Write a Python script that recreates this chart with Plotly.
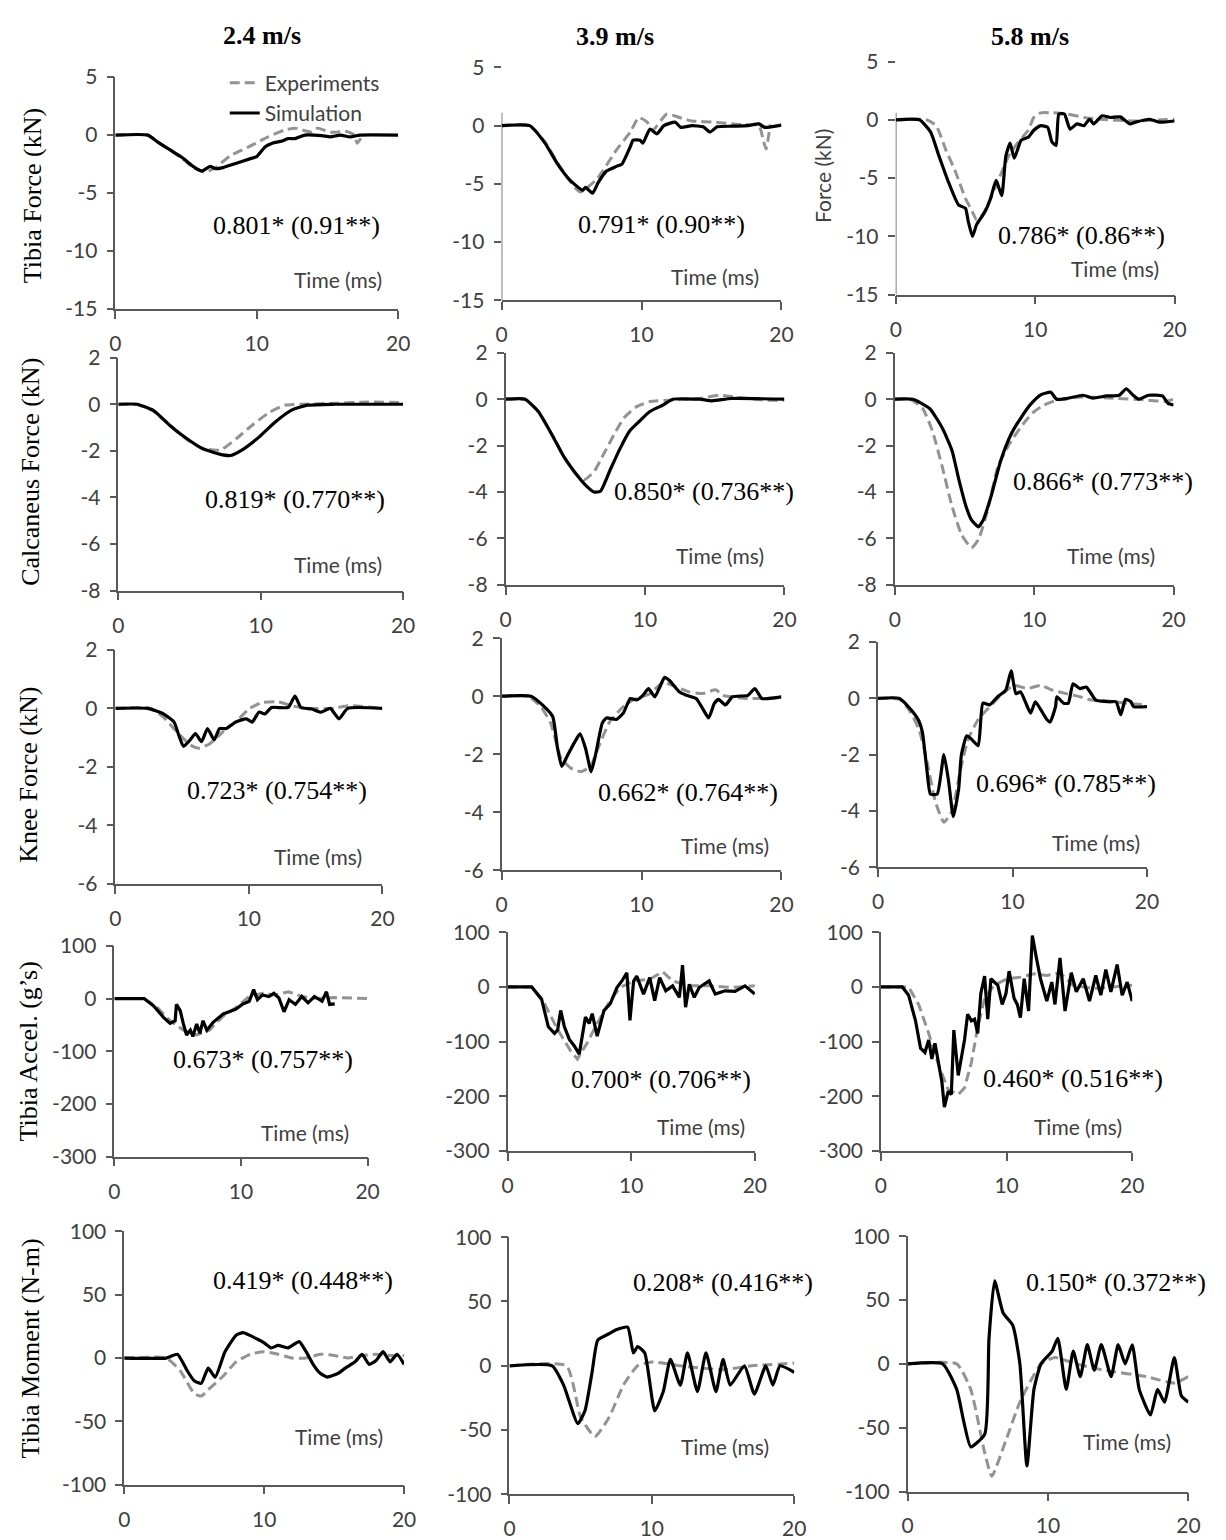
import plotly.graph_objects as go

W, H = 1226, 1540

# ---------------- DATA ----------------
col_titles = ["2.4 m/s", "3.9 m/s", "5.8 m/s"]
row_titles = ["Tibia Force (kN)", "Calcaneus Force (kN)", "Knee Force (kN)",
              "Tibia Accel. (g\u2019s)", "Tibia Moment (N-m)"]
corr_labels = ["0.801* (0.91**)", "0.791* (0.90**)", "0.786* (0.86**)",
               "0.819* (0.770**)", "0.850* (0.736**)", "0.866* (0.773**)",
               "0.723* (0.754**)", "0.662* (0.764**)", "0.696* (0.785**)",
               "0.673* (0.757**)", "0.700* (0.706**)", "0.460* (0.516**)",
               "0.419* (0.448**)", "0.208* (0.416**)", "0.150* (0.372**)"]
x_ticks = [0, 10, 20]

# Tibia force 2.4 m/s
tf24_sim_t = [0, 2.3, 3.0, 3.9, 4.8, 5.5, 6.1, 6.7, 7.1, 7.6, 8.5, 9.5, 10.0, 10.6, 11.1, 11.8, 12.2, 12.7, 13.4, 14.6, 15.2, 15.9, 16.6, 17.3, 20]
tf24_sim_v = [0, 0, -0.6, -1.3, -2.0, -2.7, -3.1, -2.7, -2.9, -2.8, -2.45, -2.05, -1.85, -1.0, -0.7, -0.5, -0.3, -0.3, 0, -0.05, -0.15, 0, -0.15, 0, 0]
tf24_exp_t = [0, 2.3, 3.0, 3.9, 4.8, 5.5, 6.4, 7.2, 8.1, 9.7, 10.8, 12.0, 12.7, 13.9, 14.3, 15.2, 16.4, 16.9, 17.1, 17.5]
tf24_exp_v = [0, 0, -0.6, -1.3, -2.1, -2.8, -3.2, -2.7, -1.8, -0.85, -0.15, 0.45, 0.6, 0.25, 0.6, 0.25, 0.3, 0, -0.7, 0]
# Tibia force 3.9 m/s
tf39_sim_t = [0, 2.0, 3.1, 4.0, 4.9, 5.8, 6.0, 6.5, 6.9, 7.5, 8.2, 8.6, 9.2, 9.4, 9.9, 10.1, 10.6, 11.1, 11.6, 12.4, 12.8, 13.6, 14.4, 14.9, 15.4, 16.5, 17.6, 18.4, 18.8, 20]
tf39_sim_v = [0, 0, -1.5, -3.3, -4.7, -5.55, -5.3, -5.8, -4.9, -3.9, -3.5, -3.3, -1.8, -1.25, -1.25, -1.5, -0.3, -0.7, 0, 0.3, -0.15, 0, -0.1, -0.55, -0.1, -0.05, 0, 0.15, -0.15, 0.05]
tf39_exp_t = [0, 2.0, 3.1, 4.0, 4.9, 5.6, 6.8, 8.2, 9.2, 9.8, 10.4, 10.8, 11.8, 12.7, 13.6, 15.3, 16.9, 18.4, 18.7, 18.9, 19.2]
tf39_exp_v = [0, 0, -1.4, -3.2, -4.8, -5.7, -4.6, -2.1, -0.55, 0.7, 0.3, -0.4, 1.0, 0.7, 0.4, 0.3, 0.1, 0, -1.25, -2.0, 0.1]
# Tibia force 5.8 m/s
tf58_sim_t = [0, 1.7, 2.5, 3.1, 3.8, 4.5, 5.0, 5.2, 5.5, 5.8, 6.4, 6.8, 7.2, 7.6, 7.9, 8.2, 8.5, 9.0, 9.5, 9.9, 10.4, 10.9, 11.2, 11.5, 11.7, 12.1, 12.5, 13.0, 13.5, 13.9, 14.2, 14.8, 15.4, 16.1, 16.8, 17.2, 18.2, 18.9, 20]
tf58_sim_v = [0, 0, -1.05, -3.1, -5.4, -7.3, -7.6, -8.7, -10.0, -9.0, -7.9, -6.75, -5.2, -6.5, -3.1, -2.0, -3.3, -1.75, -1.5, -0.9, -0.5, -0.65, -1.9, -2.2, 0.5, 0.5, -0.8, -0.35, -0.5, 0.05, -0.35, 0.35, 0.2, 0.25, -0.35, -0.2, 0.05, -0.2, -0.1]
tf58_exp_t = [0, 2.2, 2.9, 3.6, 4.3, 5.0, 5.5, 5.8, 6.2, 6.6, 7.1, 7.6, 8.1, 8.8, 9.5, 9.9, 10.4, 11.3, 12.3, 13.5, 14.7, 17.1, 20]
tf58_exp_v = [0, 0, -0.5, -2.6, -4.5, -6.75, -7.9, -8.6, -8.2, -7.3, -5.9, -4.5, -3.1, -1.9, -0.9, 0.2, 0.6, 0.6, 0.5, 0.2, 0.05, -0.1, 0.05]

# Calcaneus force
cf24_sim_t = [0, 1.3, 2.5, 3.6, 4.8, 5.9, 7.1, 7.9, 8.7, 9.9, 11.0, 12.2, 13.3, 15.2, 20]
cf24_sim_v = [0, 0, -0.28, -0.9, -1.47, -1.9, -2.14, -2.2, -1.96, -1.4, -0.77, -0.24, -0.04, 0, 0]
cf24_exp_t = [0, 1.3, 2.5, 3.6, 4.8, 5.9, 7.2, 8.3, 9.4, 10.6, 11.7, 12.9, 15.2, 17.5, 20]
cf24_exp_v = [0, 0, -0.3, -0.9, -1.5, -1.9, -1.96, -1.47, -0.9, -0.35, -0.04, 0, 0.04, 0.1, 0.07]
cf39_sim_t = [0, 1.4, 2.35, 3.3, 4.2, 5.2, 5.9, 6.35, 6.8, 7.5, 8.2, 8.9, 9.6, 10.35, 11.3, 12.0, 13.9, 14.8, 16.2, 20]
cf39_sim_v = [0, 0, -0.53, -1.5, -2.5, -3.33, -3.8, -4.0, -3.97, -3.05, -2.14, -1.37, -0.95, -0.53, -0.25, 0, 0, -0.07, 0.03, 0]
cf39_exp_t = [0, 1.4, 2.35, 3.3, 4.2, 5.0, 5.65, 6.35, 7.05, 7.8, 8.5, 9.4, 10.35, 11.8, 13.9, 15.3, 16.9, 18.6, 20]
cf39_exp_v = [0, 0, -0.53, -1.5, -2.5, -3.2, -3.47, -3.12, -2.35, -1.5, -0.8, -0.32, -0.1, -0.04, 0.03, 0.17, 0.06, -0.04, -0.04]
cf58_sim_t = [0, 1.3, 2.5, 3.4, 4.1, 4.6, 5.1, 5.5, 6.0, 6.35, 6.9, 7.6, 8.35, 9.05, 9.8, 10.5, 11.2, 11.6, 12.35, 13.5, 14.2, 15.2, 16.1, 16.6, 17.1, 17.5, 18.2, 19.2, 19.6, 20]
cf58_sim_v = [0, 0, -0.4, -1.23, -2.2, -3.47, -4.6, -5.2, -5.5, -5.2, -4.2, -2.65, -1.5, -0.8, -0.18, 0.2, 0.3, 0, 0.03, 0.17, 0.05, 0.14, 0.17, 0.45, 0.17, 0, 0.17, 0.14, -0.18, -0.25]
cf58_exp_t = [0, 1.1, 2.0, 2.7, 3.4, 4.1, 4.8, 5.5, 6.0, 6.7, 7.4, 8.35, 9.3, 10.0, 10.7, 11.65, 13.5, 15.9, 18.2, 19.4, 20]
cf58_exp_v = [0, 0, -0.4, -1.37, -2.9, -4.6, -5.85, -6.4, -6.05, -4.7, -2.9, -1.8, -1.0, -0.53, -0.25, -0.04, 0.1, 0.03, -0.04, -0.1, 0]

# Knee force
kf24_sim_t = [0, 2.4, 3.6, 4.4, 4.75, 5.1, 5.6, 6.0, 6.45, 6.9, 7.4, 7.8, 8.3, 9.0, 9.8, 10.25, 10.75, 11.2, 11.7, 12.95, 13.45, 13.9, 14.7, 15.4, 16.1, 16.75, 17.4, 20]
kf24_sim_v = [0, 0, -0.19, -0.47, -0.92, -1.3, -1.08, -0.86, -1.14, -0.69, -1.08, -0.69, -0.69, -0.47, -0.36, -0.47, -0.13, -0.19, 0.03, 0.03, 0.42, 0.03, -0.02, -0.13, 0, -0.36, 0, 0]
kf24_exp_t = [0, 2.65, 3.6, 4.6, 5.6, 6.3, 7.1, 8.05, 9.0, 10.0, 11.0, 12.2, 13.2, 14.4, 16.4, 17.4, 20]
kf24_exp_v = [0, 0, -0.3, -0.8, -1.25, -1.36, -1.2, -0.8, -0.47, -0.02, 0.2, 0.22, 0.09, 0, 0, 0.09, 0]
kf39_sim_t = [0, 2.1, 3.05, 3.65, 4.0, 4.3, 4.7, 5.2, 5.6, 6.0, 6.4, 6.7, 7.2, 7.5, 8.2, 8.7, 9.2, 9.65, 10.1, 10.5, 10.95, 11.3, 11.65, 12.0, 12.7, 13.2, 13.9, 14.35, 14.8, 15.2, 15.5, 16.0, 16.5, 17.6, 18.1, 18.6, 19.05, 20]
kf39_sim_v = [0, 0, -0.36, -0.7, -1.8, -2.42, -2.05, -1.6, -1.3, -1.8, -2.6, -2.05, -0.92, -0.75, -0.8, -0.58, -0.08, -0.13, 0.03, 0.26, -0.02, 0.31, 0.65, 0.54, 0.15, 0.03, -0.08, -0.41, -0.75, -0.25, -0.11, -0.3, -0.02, 0.03, 0.26, -0.08, -0.08, -0.02]
kf39_exp_t = [0, 1.9, 2.8, 3.5, 4.25, 4.95, 5.65, 6.35, 7.05, 7.75, 8.7, 9.4, 10.6, 11.55, 12.5, 13.4, 14.35, 15.3, 15.8, 17.6, 20]
kf39_exp_v = [0, 0, -0.36, -0.92, -2.14, -2.48, -2.6, -2.42, -1.6, -0.86, -0.36, -0.13, 0.09, 0.48, 0.31, 0.15, 0.09, 0.22, 0.03, -0.08, -0.05]
kf58_sim_t = [0, 1.6, 2.55, 3.05, 3.3, 3.65, 3.9, 4.4, 4.9, 5.25, 5.6, 6.0, 6.2, 6.6, 6.95, 7.45, 7.8, 8.3, 8.9, 9.5, 9.9, 10.25, 10.6, 11.1, 11.35, 11.7, 12.1, 12.55, 12.8, 13.2, 13.3, 13.8, 14.15, 14.5, 15.0, 15.5, 16.2, 17.2, 17.7, 18.05, 18.4, 18.8, 19.0, 20]
kf58_sim_v = [0, 0, -0.46, -0.81, -1.2, -2.6, -3.4, -3.4, -2.0, -2.95, -4.2, -3.2, -2.0, -1.33, -1.45, -1.68, -0.17, -0.23, 0.06, 0.29, 0.98, 0.17, 0.23, -0.29, -0.52, -0.12, -0.4, -0.75, -0.84, -0.29, 0.06, -0.17, -0.17, 0.52, 0.35, 0.4, -0.06, -0.12, -0.12, -0.58, -0.03, -0.12, -0.29, -0.29]
kf58_exp_t = [0, 1.6, 2.3, 3.05, 3.65, 4.25, 4.9, 5.5, 6.1, 6.7, 7.45, 8.2, 9.15, 10.1, 11.1, 12.1, 13.0, 14.0, 15.0, 15.9, 16.95, 18.4, 20]
kf58_exp_v = [0, -0.03, -0.4, -1.1, -2.25, -3.64, -4.4, -4.0, -2.6, -1.45, -0.75, -0.35, 0.12, 0.46, 0.35, 0.46, 0.29, 0.17, 0.06, -0.06, -0.08, -0.17, -0.23]

# Tibia acceleration
ta24_sim_t = [0, 2.35, 3.1, 3.9, 4.4, 4.8, 4.9, 5.2, 5.45, 5.7, 6.0, 6.2, 6.5, 6.75, 7.0, 7.3, 7.8, 8.6, 9.6, 10.1, 10.65, 11.0, 11.3, 11.7, 12.2, 12.6, 13.0, 13.4, 13.8, 14.3, 14.8, 15.3, 15.8, 16.4, 16.75, 17.0, 17.4]
ta24_sim_v = [0, 0, -14, -36, -47, -42, -11, -23, -48, -69, -60, -72, -48, -66, -42, -60, -45, -29, -20, -11, -5, 17, -2, 7, 4, 10, 1, -25, -2, -11, 4, -8, 4, -5, 13, -11, -10]
ta24_exp_t = [0, 2.35, 3.4, 4.4, 5.45, 6.5, 7.5, 8.6, 9.6, 10.65, 11.7, 12.7, 13.75, 14.8, 16.1, 17.4, 20]
ta24_exp_v = [0, 0, -17, -42, -60, -69, -60, -33, -17, 4, 10, 7, 13, 4, 0, 2, 0]
ta39_sim_t = [0, 1.95, 2.75, 3.3, 3.8, 4.05, 4.3, 4.6, 5.0, 5.4, 5.8, 6.05, 6.3, 6.6, 6.85, 7.25, 7.8, 8.3, 8.6, 8.85, 9.25, 9.65, 9.9, 10.2, 10.45, 11.0, 11.5, 11.9, 12.3, 12.8, 13.35, 13.9, 14.15, 14.4, 14.7, 15.1, 15.5, 16.3, 16.8, 17.6, 18.4, 19.2, 20]
ta39_sim_v = [0, 0, -22, -73, -85, -79, -43, -73, -96, -108, -123, -84, -55, -67, -49, -90, -43, -31, -13, -1, 11, 26, -61, 11, 20, -13, 17, -25, 17, -7, 2, -19, 40, -37, 5, -19, -1, 11, -13, -7, -8, 2, -13]
ta39_exp_t = [0, 1.95, 3.0, 4.05, 5.1, 5.65, 6.45, 7.25, 8.3, 9.1, 10.2, 11.5, 12.55, 13.35, 14.7, 16.3, 18.1, 20]
ta39_exp_v = [0, 0, -31, -78, -117, -132, -102, -67, -25, -1, 11, 14, 28, 11, 2, 2, -1, 2]
ta58_sim_t = [0, 1.7, 2.2, 2.75, 3.15, 3.5, 3.8, 4.05, 4.3, 4.6, 4.85, 5.05, 5.35, 5.6, 5.8, 6.15, 6.4, 6.65, 6.9, 7.2, 7.45, 7.7, 7.95, 8.25, 8.5, 8.75, 9.3, 9.65, 9.95, 10.2, 10.6, 10.85, 11.1, 11.4, 11.75, 12.05, 12.35, 12.7, 13.2, 13.6, 13.85, 14.25, 14.65, 15.15, 15.55, 16.1, 16.6, 17.1, 17.5, 17.9, 18.3, 18.8, 19.2, 19.6, 20]
ta58_sim_v = [0, 0, -15, -62, -112, -120, -97, -132, -103, -144, -174, -220, -191, -197, -79, -162, -126, -97, -50, -62, -59, -85, -12, 20, -59, 15, 3, -32, -12, 29, -21, -32, -56, 15, -44, 94, 56, 15, -26, 9, -32, 53, -44, 26, -9, 15, -26, 21, -15, 32, -9, 41, -15, 9, -26]
ta58_exp_t = [0, 2.2, 3.0, 3.8, 4.6, 5.35, 6.15, 6.65, 7.2, 7.7, 8.25, 9.0, 10.05, 11.1, 12.2, 13.2, 14.25, 15.3, 16.9, 18.4, 20]
ta58_exp_v = [0, 0, -32, -85, -144, -188, -197, -185, -138, -74, -21, 3, 15, 18, 24, 21, 26, 3, -3, 0, 3]

# Tibia moment
tm24_sim_t = [0, 3.0, 3.8, 4.5, 5.0, 5.5, 6.0, 6.5, 7.2, 8.0, 8.5, 9.5, 10.0, 10.5, 11.0, 11.7, 12.5, 13.0, 13.5, 14.0, 14.5, 15.3, 15.8, 16.5, 17.0, 17.5, 18.0, 18.5, 19.0, 19.5, 20]
tm24_sim_v = [0, 0, 3, -10, -18, -20, -8, -15, 5, 18, 20, 15, 12, 8, 10, 8, 13, 5, -5, -12, -15, -12, -8, -3, 3, -5, -2, 5, -3, 3, -5]
tm24_exp_t = [0, 3.0, 4.0, 5.0, 5.5, 6.0, 7.0, 8.0, 9.0, 10.0, 11.0, 12.0, 13.0, 14.0, 15.0, 16.0, 17.0, 18.0, 19.0, 20]
tm24_exp_v = [0, 0, -10, -28, -30, -25, -15, -3, 3, 5, 3, 0, 0, 3, 2, 0, 2, 3, 2, 2]
tm39_sim_t = [0, 3.0, 3.8, 4.8, 5.3, 5.8, 6.2, 7.0, 7.5, 8.3, 8.7, 9.0, 9.5, 10.2, 10.8, 11.3, 12.0, 12.5, 13.2, 13.8, 14.5, 15.0, 15.5, 16.5, 17.2, 18.0, 18.5, 19.0, 20]
tm39_sim_v = [0, 0, -15, -45, -35, -5, 20, 25, 28, 30, 10, 15, 10, -35, -20, 5, -15, 10, -20, 10, -20, 5, -15, 0, -22, 0, -15, 0, -5]
tm39_exp_t = [0, 4.0, 5.0, 6.0, 7.0, 8.0, 9.0, 10.0, 12.0, 15.0, 17.0, 20]
tm39_exp_v = [0, 0, -40, -55, -40, -15, 0, 3, 0, -3, 0, 2]
tm58_sim_t = [0, 2.5, 3.5, 4.0, 4.5, 5.5, 5.8, 6.2, 6.8, 7.5, 8.0, 8.5, 9.0, 9.5, 10.3, 10.7, 11.3, 11.8, 12.3, 12.8, 13.3, 13.8, 14.5, 15.0, 15.5, 16.0, 16.5, 17.3, 17.8, 18.3, 19.0, 19.5, 20]
tm58_sim_v = [0, 0, -20, -45, -65, -55, 20, 65, 40, 30, 0, -80, -20, 0, 10, 20, -20, 10, -10, 15, -5, 15, -10, 15, 0, 15, -20, -40, -20, -30, 5, -25, -30]
tm58_exp_t = [0, 3.5, 4.5, 5.5, 6.0, 7.0, 8.0, 9.5, 10.5, 12.0, 14.0, 17.0, 19.0, 20]
tm58_exp_v = [0, 0, -20, -70, -88, -60, -30, 0, 5, 0, -5, -10, -15, -10]

panels = [
    (tf24_sim_t, tf24_sim_v, tf24_exp_t, tf24_exp_v), (tf39_sim_t, tf39_sim_v, tf39_exp_t, tf39_exp_v), (tf58_sim_t, tf58_sim_v, tf58_exp_t, tf58_exp_v),
    (cf24_sim_t, cf24_sim_v, cf24_exp_t, cf24_exp_v), (cf39_sim_t, cf39_sim_v, cf39_exp_t, cf39_exp_v), (cf58_sim_t, cf58_sim_v, cf58_exp_t, cf58_exp_v),
    (kf24_sim_t, kf24_sim_v, kf24_exp_t, kf24_exp_v), (kf39_sim_t, kf39_sim_v, kf39_exp_t, kf39_exp_v), (kf58_sim_t, kf58_sim_v, kf58_exp_t, kf58_exp_v),
    (ta24_sim_t, ta24_sim_v, ta24_exp_t, ta24_exp_v), (ta39_sim_t, ta39_sim_v, ta39_exp_t, ta39_exp_v), (ta58_sim_t, ta58_sim_v, ta58_exp_t, ta58_exp_v),
    (tm24_sim_t, tm24_sim_v, tm24_exp_t, tm24_exp_v), (tm39_sim_t, tm39_sim_v, tm39_exp_t, tm39_exp_v), (tm58_sim_t, tm58_sim_v, tm58_exp_t, tm58_exp_v),
]

row_yticks = [[-15, -10, -5, 0, 5], [-8, -6, -4, -2, 0, 2], [-6, -4, -2, 0, 2],
              [-300, -200, -100, 0, 100], [-100, -50, 0, 50, 100]]

# ---------------- LAYOUT (pixel boxes: x0, x1, y_top, y_bottom) ----------------
boxes = [
    (111, 398, 65, 304), (503, 787, 55, 295), (903, 1186, 49, 289),
    (114, 403, 354, 594), (507, 790, 349, 588), (902, 1185, 349, 588),
    (111, 382, 655, 896), (503, 787, 643, 882), (885, 1158, 647, 879),
    (110, 367, 960, 1177), (509, 760, 946, 1171), (888, 1143, 946, 1171),
    (120, 404, 1254, 1515), (511, 800, 1260, 1525), (915, 1200, 1259, 1522),
]
# top of the visible y-axis line (data units) where the source panel is cropped
axis_line_top = {1: 1.1, 2: 0.6}
corr_pos = [(295, 218), (665, 217), (1092, 228),
            (293, 500), (708, 492), (1113, 482),
            (275, 800), (692, 802), (1076, 793),
            (261, 1077), (665, 1098), (1083, 1097),
            (301, 1305), (728, 1307), (1127, 1307)]
time_pos = [(337, 273), (720, 270), (1126, 262),
            (337, 567), (725, 558), (1121, 558),
            (317, 868), (730, 857), (1106, 853),
            (303, 1152), (705, 1146), (1088, 1146),
            (338, 1465), (730, 1476), (1138, 1470)]
col_title_pos = [(260, 22), (618, 23), (1039, 23)]
row_title_pos = [(27, 187), (25, 472), (22, 784), (23, 1069), (25, 1375)]
smooth_rows = [0, 1, 2, 4]

SERIF = "Liberation Serif"
SANS = "Lato"
AX = "#595959"
TXT = "#404040"
EXP_C = "#939393"

fig = go.Figure()
layout = dict(width=W, height=H, margin=dict(l=0, r=0, t=0, b=0),
              paper_bgcolor="white", plot_bgcolor="white",
              showlegend=True)
annotations = []
shapes = []

for i, (st, sv, et, ev) in enumerate(panels):
    k = i + 1
    r = i // 3
    x0, x1, yt, yb = boxes[i]
    xa = "x" if k == 1 else f"x{k}"
    ya = "y" if k == 1 else f"y{k}"
    shape = "spline" if r in smooth_rows else "linear"
    fig.add_trace(go.Scatter(x=et, y=ev, mode="lines", xaxis=xa, yaxis=ya,
                             name="Experiments", showlegend=(k == 1),
                             line=dict(color=EXP_C, width=3, dash="10px,5px",
                                       shape=shape, smoothing=0.5)))
    fig.add_trace(go.Scatter(x=st, y=sv, mode="lines", xaxis=xa, yaxis=ya,
                             name="Simulation", showlegend=(k == 1),
                             line=dict(color="black", width=3.2,
                                       shape=shape, smoothing=0.5)))
    yv = row_yticks[r]
    common = dict(showgrid=False, zeroline=False, linecolor=AX,
                  linewidth=1.5, ticks="outside", tickcolor=AX, tickwidth=1.5,
                  tickfont=dict(family=SANS, size=21, color=TXT))
    layout[("xaxis" if k == 1 else f"xaxis{k}")] = dict(
        domain=[x0 / W, x1 / W], anchor=ya, range=[0, 20], tickvals=x_ticks,
        ticktext=[str(v) for v in x_ticks], showline=True,
        ticklen=8, ticklabelstandoff=7, **common)
    cropped = i in axis_line_top
    layout[("yaxis" if k == 1 else f"yaxis{k}")] = dict(
        domain=[1 - yb / H, 1 - yt / H], anchor=xa, range=[yv[0], yv[-1]],
        tickvals=yv, ticktext=[str(v) for v in yv], showline=not cropped,
        ticklen=7, ticklabelstandoff=5, **common)
    if cropped:
        shapes.append(dict(type="line", xref=xa, yref=ya, x0=0, x1=0,
                           y0=yv[0], y1=axis_line_top[i],
                           line=dict(color=AX, width=1.5), layer="below"))

    cx, cy = corr_pos[i]
    annotations.append(dict(xref="paper", yref="paper", x=cx / W, y=1 - cy / H,
                            text=corr_labels[i], showarrow=False, xanchor="center", yanchor="middle",
                            font=dict(family=SERIF, size=26, color="black")))
    tx, ty = time_pos[i]
    annotations.append(dict(xref="paper", yref="paper", x=tx / W, y=1 - ty / H,
                            text="Time (ms)", showarrow=False, xanchor="center", yanchor="middle",
                            font=dict(family=SANS, size=21, color=TXT)))

for j, t in enumerate(col_titles):
    cx, cy = col_title_pos[j]
    annotations.append(dict(xref="paper", yref="paper", x=cx / W, y=1 - cy / H,
                            text=f"<b>{t}</b>", showarrow=False, xanchor="center", yanchor="middle",
                            font=dict(family=SERIF, size=26, color="black")))
for j, t in enumerate(row_titles):
    cx, cy = row_title_pos[j]
    annotations.append(dict(xref="paper", yref="paper", x=cx / W, y=1 - cy / H,
                            text=t, showarrow=False, textangle=-90, xanchor="center", yanchor="middle",
                            font=dict(family=SERIF, size=26, color="black")))
annotations.append(dict(xref="paper", yref="paper", x=828 / W, y=1 - 167 / H,
                        text="Force (kN)", showarrow=False, textangle=-90, xanchor="center", yanchor="middle",
                        font=dict(family=SANS, size=21, color=TXT)))

layout["annotations"] = annotations
layout["shapes"] = shapes
layout["legend"] = dict(x=222 / W, y=1 - 50 / H, xanchor="left", yanchor="top",
                        bgcolor="rgba(0,0,0,0)", font=dict(family=SANS, size=21, color=TXT),
                        tracegroupgap=0, itemwidth=30)
fig.update_layout(**layout)
fig.write_html("out.html")
